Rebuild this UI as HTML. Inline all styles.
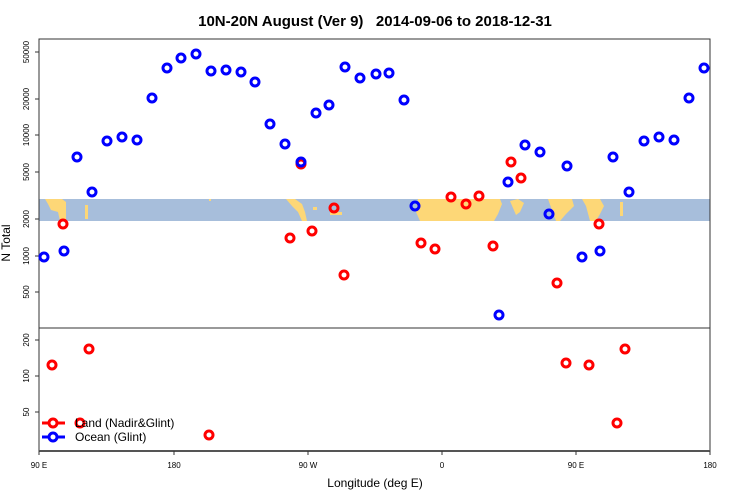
<!DOCTYPE html>
<html><head><meta charset="utf-8"><style>
html,body{margin:0;padding:0;background:#fff;}
svg{display:block;font-family:"Liberation Sans",sans-serif;}
</style></head><body>
<svg width="750" height="500" viewBox="0 0 750 500" xmlns="http://www.w3.org/2000/svg">
<text x="375" y="26" text-anchor="middle" font-size="15" font-weight="bold" style="white-space:pre">10N-20N August (Ver 9)   2014-09-06 to 2018-12-31</text>
<!-- map band -->
<rect x="39" y="199" width="671" height="22" fill="#a7bedb"/>
<g fill="#fdd777">
<polygon points="45,199 62,199 66,202 66,221 60,221 58,212 51,210 48,204"/>
<rect x="85" y="205" width="3" height="14"/>
<polygon points="286,199 295,199 302,204 305,212 307,221 302,221 298,212 292,206"/>
<rect x="313" y="207" width="4" height="3"/>
<rect x="330" y="212" width="12" height="3"/>
<polygon points="418,199 500,199 502,204 498,214 494,221 420,221 416,212"/>
<polygon points="510,201 518,199 524,203 520,212 516,215"/>
<polygon points="548,199 572,199 574,206 566,214 560,221 556,221 552,210"/>
<polygon points="582,199 600,199 604,206 600,214 596,221 590,221 586,206"/>
<rect x="620" y="202" width="3" height="14"/>
<rect x="209" y="199" width="2" height="2"/>
</g>
<!-- frame -->
<rect x="39" y="39" width="671" height="412" fill="none" stroke="#333" stroke-width="1"/>
<line x1="39" y1="328" x2="710" y2="328" stroke="#333"/>
<line x1="39" y1="451" x2="710" y2="451" stroke="#555" stroke-width="2"/>
<g stroke="#333">
<line x1="35" y1="52" x2="39" y2="52"/><line x1="35" y1="99" x2="39" y2="99"/><line x1="35" y1="135" x2="39" y2="135"/><line x1="35" y1="172" x2="39" y2="172"/><line x1="35" y1="219" x2="39" y2="219"/><line x1="35" y1="256" x2="39" y2="256"/><line x1="35" y1="292" x2="39" y2="292"/>
<line x1="35" y1="340" x2="39" y2="340"/><line x1="35" y1="376" x2="39" y2="376"/><line x1="35" y1="412" x2="39" y2="412"/>
<line x1="39" y1="451" x2="39" y2="455"/><line x1="174" y1="451" x2="174" y2="455"/><line x1="308" y1="451" x2="308" y2="455"/><line x1="442" y1="451" x2="442" y2="455"/><line x1="576" y1="451" x2="576" y2="455"/><line x1="710" y1="451" x2="710" y2="455"/>
</g>
<g font-size="8" text-anchor="middle">
<text transform="translate(29,52) rotate(-90)">50000</text>
<text transform="translate(29,99) rotate(-90)">20000</text>
<text transform="translate(29,135) rotate(-90)">10000</text>
<text transform="translate(29,172) rotate(-90)">5000</text>
<text transform="translate(29,219) rotate(-90)">2000</text>
<text transform="translate(29,256) rotate(-90)">1000</text>
<text transform="translate(29,292) rotate(-90)">500</text>
<text transform="translate(29,340) rotate(-90)">200</text>
<text transform="translate(29,376) rotate(-90)">100</text>
<text transform="translate(29,412) rotate(-90)">50</text>
<text x="39" y="468">90 E</text><text x="174" y="468">180</text><text x="308" y="468">90 W</text><text x="442" y="468">0</text><text x="576" y="468">90 E</text><text x="710" y="468">180</text>
</g>
<text transform="translate(10,243) rotate(-90)" font-size="12" text-anchor="middle">N Total</text>
<text x="375" y="487" font-size="12" text-anchor="middle">Longitude (deg E)</text>
<g fill="none" stroke="#f00" stroke-width="3">
<circle cx="63" cy="224" r="4"/><circle cx="290" cy="238" r="4"/><circle cx="301" cy="164" r="4"/><circle cx="312" cy="231" r="4"/><circle cx="334" cy="208" r="4"/><circle cx="344" cy="275" r="4"/><circle cx="421" cy="243" r="4"/><circle cx="435" cy="249" r="4"/><circle cx="451" cy="197" r="4"/><circle cx="466" cy="204" r="4"/><circle cx="479" cy="196" r="4"/><circle cx="493" cy="246" r="4"/><circle cx="511" cy="162" r="4"/><circle cx="521" cy="178" r="4"/><circle cx="557" cy="283" r="4"/><circle cx="599" cy="224" r="4"/>
<circle cx="52" cy="365" r="4"/><circle cx="89" cy="349" r="4"/><circle cx="80" cy="423" r="4"/><circle cx="209" cy="435" r="4"/><circle cx="566" cy="363" r="4"/><circle cx="589" cy="365" r="4"/><circle cx="625" cy="349" r="4"/><circle cx="617" cy="423" r="4"/>
</g>
<g fill="none" stroke="#00f" stroke-width="3">
<circle cx="44" cy="257" r="4"/><circle cx="64" cy="251" r="4"/><circle cx="77" cy="157" r="4"/><circle cx="92" cy="192" r="4"/><circle cx="107" cy="141" r="4"/><circle cx="122" cy="137" r="4"/><circle cx="137" cy="140" r="4"/><circle cx="152" cy="98" r="4"/><circle cx="167" cy="68" r="4"/><circle cx="181" cy="58" r="4"/><circle cx="196" cy="54" r="4"/><circle cx="211" cy="71" r="4"/><circle cx="226" cy="70" r="4"/><circle cx="241" cy="72" r="4"/><circle cx="255" cy="82" r="4"/><circle cx="270" cy="124" r="4"/><circle cx="285" cy="144" r="4"/><circle cx="301" cy="162" r="4"/><circle cx="316" cy="113" r="4"/><circle cx="329" cy="105" r="4"/><circle cx="345" cy="67" r="4"/><circle cx="360" cy="78" r="4"/><circle cx="376" cy="74" r="4"/><circle cx="389" cy="73" r="4"/><circle cx="404" cy="100" r="4"/><circle cx="415" cy="206" r="4"/><circle cx="499" cy="315" r="4"/><circle cx="508" cy="182" r="4"/><circle cx="525" cy="145" r="4"/><circle cx="540" cy="152" r="4"/><circle cx="549" cy="214" r="4"/><circle cx="567" cy="166" r="4"/><circle cx="582" cy="257" r="4"/><circle cx="600" cy="251" r="4"/><circle cx="613" cy="157" r="4"/><circle cx="629" cy="192" r="4"/><circle cx="644" cy="141" r="4"/><circle cx="659" cy="137" r="4"/><circle cx="674" cy="140" r="4"/><circle cx="689" cy="98" r="4"/><circle cx="704" cy="68" r="4"/>
</g>
<line x1="42" y1="423" x2="65" y2="423" stroke="#f00" stroke-width="3"/>
<circle cx="53" cy="423" r="4" fill="#fff" stroke="#f00" stroke-width="3"/>
<line x1="42" y1="437" x2="65" y2="437" stroke="#00f" stroke-width="3"/>
<circle cx="53" cy="437" r="4" fill="#fff" stroke="#00f" stroke-width="3"/>
<text x="75" y="427" font-size="12">Land (Nadir&amp;Glint)</text>
<text x="75" y="441" font-size="12">Ocean (Glint)</text>
</svg>
</body></html>
